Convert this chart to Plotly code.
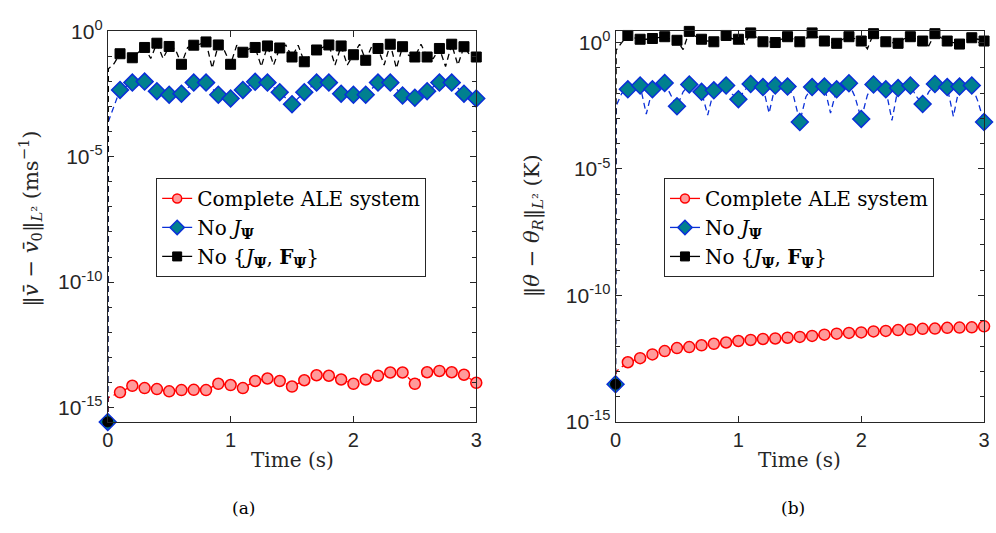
import plotly.graph_objects as go

# ---------------- data (values stored as log10 of the error) ----------------
time_s = [round(0.1 * i, 1) for i in range(31)]          # marker times 0.0 ... 3.0
mid_time_s = [round(0.05 + 0.1 * i, 2) for i in range(30)]  # between-marker samples of the dashed curves
rise_time_s = 0.005                                      # first sample after the initial state

# Panel (a): velocity error
a_red_log = [-15.57, -14.39, -14.13, -14.22, -14.26, -14.35, -14.30, -14.29, -14.30, -14.05, -14.10,
             -14.22, -13.94, -13.84, -13.94, -14.16, -13.91, -13.71, -13.73, -13.88, -14.05,
             -13.88, -13.73, -13.60, -13.60, -14.05, -13.59, -13.54, -13.59, -13.69, -14.01]
a_blue_log = [-15.57, -2.34, -2.05, -2.01, -2.39, -2.53, -2.49, -2.05, -2.05, -2.53, -2.68,
              -2.34, -2.02, -2.05, -2.43, -2.91, -2.43, -2.05, -2.05, -2.49, -2.53,
              -2.53, -2.05, -2.05, -2.56, -2.65, -2.39, -2.05, -2.05, -2.49, -2.68]
a_black_log = [-15.57, -0.90, -1.06, -0.65, -0.48, -0.61, -1.32, -0.56, -0.43, -0.55, -1.32,
               -0.84, -0.65, -0.59, -0.67, -1.03, -1.22, -0.75, -0.55, -0.59, -0.94,
               -1.16, -0.69, -0.52, -0.62, -1.03, -1.03, -0.69, -0.52, -0.62, -1.03]
a_black_mid_log = [-1.30, -0.97, -0.84, -1.09, -1.09, -0.71, -0.65, -0.52, -1.48, -0.78,
                   -0.56, -0.71, -1.41, -1.35, -0.56, -0.56, -0.97, -0.65, -1.35, -1.35,
                   -0.52, -0.59, -1.35, -1.48, -0.97, -0.52, -1.09, -1.41, -1.35, -0.97]
a_rise_log = {"red": -14.6, "blue": -3.6, "black": -1.5}

# Panel (b): temperature error
b_red_log = [-13.51, -12.64, -12.48, -12.33, -12.20, -12.08, -12.04, -11.97, -11.91, -11.86, -11.80,
             -11.76, -11.72, -11.70, -11.67, -11.64, -11.60, -11.55, -11.51, -11.48, -11.46,
             -11.42, -11.40, -11.37, -11.35, -11.32, -11.31, -11.28, -11.27, -11.26, -11.22]
b_blue_log = [-13.51, -1.85, -1.70, -1.85, -1.60, -2.52, -1.66, -1.95, -1.89, -1.70, -2.24,
              -1.64, -1.76, -1.70, -1.74, -3.14, -1.76, -1.74, -1.85, -1.61, -3.02,
              -1.66, -1.85, -1.80, -1.70, -2.43, -1.64, -1.76, -1.74, -1.70, -3.14]
b_blue_mid_log = [-2.01, -1.76, -2.83, -1.74, -2.08, -1.95, -1.86, -2.87, -1.79, -2.04,
                  -1.89, -1.76, -2.79, -1.79, -2.14, -2.14, -1.79, -2.79, -1.74, -2.16,
                  -2.08, -1.79, -3.08, -1.79, -2.14, -1.95, -1.76, -2.92, -1.76, -2.33]
b_black_log = [-13.51, 0.28, 0.13, 0.16, 0.23, 0.09, 0.44, 0.13, 0.03, 0.28, 0.13,
               0.38, 0.03, 0.00, 0.23, 0.03, 0.38, 0.06, -0.03, 0.23, 0.06,
               0.35, 0.03, -0.03, 0.23, 0.06, 0.35, 0.06, -0.06, 0.19, 0.06]
b_black_mid_log = [0.00, 0.19, 0.13, 0.19, 0.13, -0.28, 0.25, 0.06, 0.13, 0.15,
                   -0.06, 0.19, 0.03, 0.13, 0.13, 0.15, 0.19, 0.00, 0.13, 0.15,
                   -0.25, 0.15, 0.00, 0.15, 0.13, -0.13, 0.19, 0.00, 0.10, 0.13]
b_rise_log = {"red": -13.0, "blue": -2.5, "black": -0.3}

series_names = ["Complete ALE system",
                "No <i>J</i><sub><b>Ψ</b></sub>",
                "No {<i>J</i><sub><b>Ψ</b></sub>, <b>F</b><sub><b>Ψ</b></sub>}"]

y_tick_vals = [1e-15, 1e-10, 1e-5, 1]
y_tick_text = ["10<sup>-15</sup>", "10<sup>-10</sup>", "10<sup>-5</sup>", "10<sup>0</sup>"]
x_tick_vals = [0, 1, 2, 3]

# ---------------- styles ----------------
RED, RED_FILL = "#ff0000", "#ff9a9a"
BLUE, BLUE_FILL = "#0a2fd8", "#00808f"
BLACK = "#000000"
AX = "#262626"
SERIF = "DejaVu Serif, Liberation Serif, serif"
SANS = "Liberation Sans, Arial, sans-serif"

styles = {
    "red": dict(color=RED, marker=dict(symbol="circle", size=11, color=RED_FILL,
                                       line=dict(color=RED, width=1.5))),
    "blue": dict(color=BLUE, marker=dict(symbol="diamond", size=13, color=BLUE_FILL,
                                         line=dict(color=BLUE, width=1.5))),
    "black": dict(color=BLACK, marker=dict(symbol=["circle"] + ["square"] * 30, size=10,
                                           color=BLACK, line=dict(color=BLACK, width=1))),
}


def line_points(vals, rise, mids=None):
    xs = [time_s[0], rise_time_s]
    ys = [vals[0], rise]
    for i in range(1, len(time_s)):
        if mids is not None:
            xs.append(mid_time_s[i - 1])
            ys.append(mids[i - 1])
        xs.append(time_s[i])
        ys.append(vals[i])
    return xs, [10 ** v for v in ys]


fig = go.Figure()


def add_panel(xa, ya, legend, data):
    for key, name, vals, rise, mids in data:
        st = styles[key]
        lx, ly = line_points(vals, rise, mids)
        fig.add_trace(go.Scatter(x=lx, y=ly, mode="lines", xaxis=xa, yaxis=ya,
                                 line=dict(color=st["color"], width=1.3, dash="6px,4px"),
                                 showlegend=False, cliponaxis=False, hoverinfo="skip"))
        fig.add_trace(go.Scatter(x=time_s, y=[10 ** v for v in vals], mode="markers",
                                 xaxis=xa, yaxis=ya, marker=st["marker"], showlegend=False,
                                 cliponaxis=False, name=name))
    for key, name, vals, rise, mids in data:
        st = styles[key]
        mk = dict(st["marker"])
        if key == "black":
            mk = dict(symbol="square", size=9, color=BLACK, line=dict(color=BLACK, width=1))
        else:
            mk = dict(mk, size=mk["size"] - 2)
        fig.add_trace(go.Scatter(x=[None], y=[None], mode="lines+markers", xaxis=xa, yaxis=ya,
                                 name=name, legend=legend, marker=mk,
                                 line=dict(color=st["color"], width=1.3)))


add_panel("x", "y", "legend", [
    ("red", series_names[0], a_red_log, a_rise_log["red"], None),
    ("blue", series_names[1], a_blue_log, a_rise_log["blue"], None),
    ("black", series_names[2], a_black_log, a_rise_log["black"], a_black_mid_log),
])
add_panel("x2", "y2", "legend2", [
    ("red", series_names[0], b_red_log, b_rise_log["red"], None),
    ("blue", series_names[1], b_blue_log, b_rise_log["blue"], b_blue_mid_log),
    ("black", series_names[2], b_black_log, b_rise_log["black"], b_black_mid_log),
])

x_common = dict(range=[0, 3], tickvals=x_tick_vals, ticks="inside", ticklen=6, tickcolor=AX,
                showline=True, linecolor=AX, linewidth=1, mirror="ticks", showgrid=False,
                zeroline=False, tickfont=dict(family=SANS, size=20, color=AX))
y_common = dict(type="log", tickvals=y_tick_vals, ticktext=y_tick_text, ticks="inside",
                ticklen=6, tickcolor=AX, showline=True, linecolor=AX, linewidth=1,
                mirror="ticks", showgrid=False, zeroline=False,
                tickfont=dict(family=SANS, size=21, color=AX),
                minor=dict(tickvals=[10.0 ** k for k in range(-16, 1)], ticks="inside",
                           ticklen=4, tickcolor=AX, showgrid=False))

legend_common = dict(bgcolor="white", bordercolor=AX, borderwidth=1,
                     font=dict(family=SERIF, size=20, color="black"),
                     xanchor="left", yanchor="top", itemwidth=30, tracegroupgap=0)


def note(text, x_px, y_px, size, color=AX, angle=0):
    return dict(text=text, x=x_px / 996, y=1 - y_px / 533, xref="paper", yref="paper",
                xanchor="center", yanchor="middle", textangle=angle, showarrow=False,
                font=dict(family=SERIF, size=size, color=color))


fig.update_layout(
    width=996, height=533, margin=dict(l=0, r=0, t=0, b=0),
    paper_bgcolor="white", plot_bgcolor="white",
    xaxis=dict(x_common, domain=[103 / 996, 476 / 996], anchor="y"),
    yaxis=dict(y_common, domain=[1 - 428 / 533, 1 - 18 / 533], anchor="x", range=[-15.57, 0]),
    xaxis2=dict(x_common, domain=[617 / 996, 990 / 996], anchor="y2"),
    yaxis2=dict(y_common, domain=[1 - 428 / 533, 1 - 18 / 533], anchor="x2", range=[-15, 0.45]),
    legend=dict(legend_common, x=152 / 996, y=1 - 172 / 533),
    legend2=dict(legend_common, x=666 / 996, y=1 - 172 / 533),
    annotations=[
        note("‖<i>v̄</i> − <i>v̄</i><sub>0</sub>‖<sub><i>L</i>²</sub> (ms<sup>−1</sup>)",
             24, 215, 21, angle=-90),
        note("‖<i>θ</i> − <i>θ</i><sub><i>R</i></sub>‖<sub><i>L</i>²</sub> (K)",
             533, 222, 21, angle=-90),
        note("Time (s)", 290, 468, 20),
        note("Time (s)", 803, 468, 20),
        note("(a)", 240, 518, 17, color="black"),
        note("(b)", 797, 518, 17, color="black"),
    ],
)

fig.write_html("out.html", config={"responsive": False, "displayModeBar": False},
               post_script="document.body.style.margin='0';"
                           "document.body.style.overflow='hidden';")
